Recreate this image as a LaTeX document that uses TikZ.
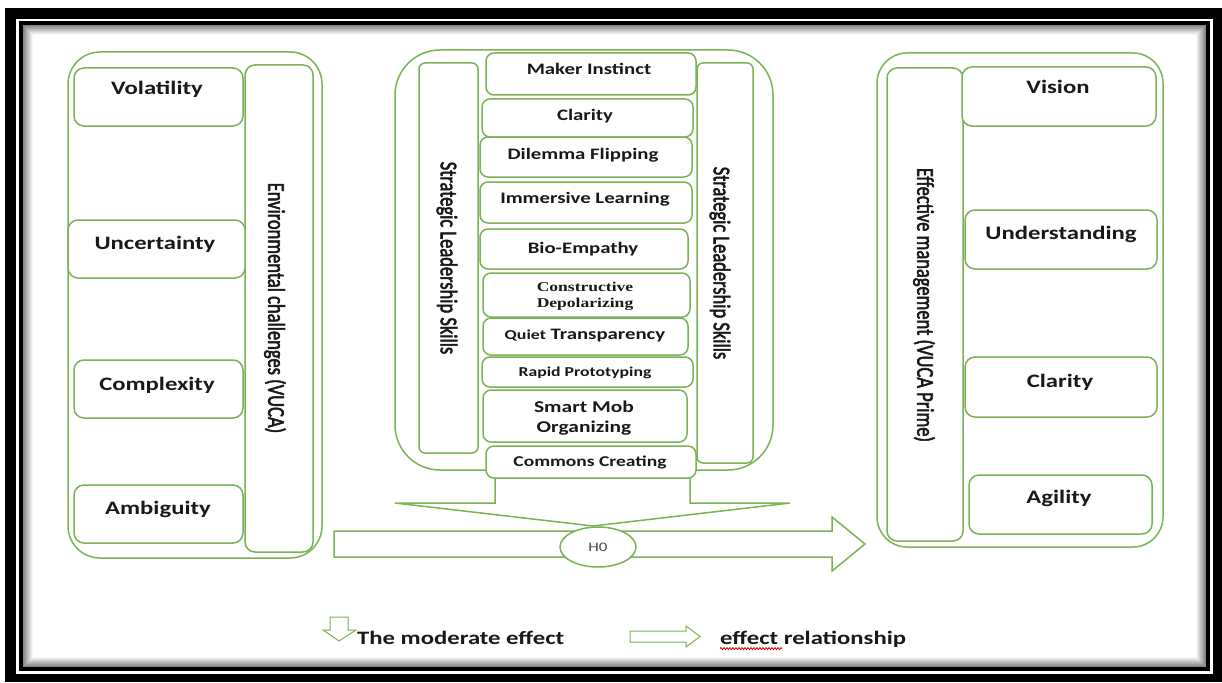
\documentclass[tikz,border=0pt]{standalone}
\usepackage{fontspec}
\usepackage{graphicx}
\setmainfont{Carlito}[FakeStretch=1.3]
\newfontfamily\rotfont{Carlito}[FakeBold=2.5]
\newfontfamily\serfont{Liberation Serif}[FakeStretch=1.3]
\usetikzlibrary{shapes.geometric,decorations.pathmorphing}
\definecolor{grn}{RGB}{120,180,85}
\definecolor{txt}{RGB}{25,25,25}
\tikzset{
  gb/.style={draw=grn, line width=1.5pt, fill=white, rectangle, inner sep=0pt, rounded corners=#1},
  gb/.default=10pt,
  lbl/.style={font=\bfseries\fontsize{19}{22}\selectfont, text=txt, inner sep=0pt, anchor=mid},
  sk/.style={font=\bfseries\fontsize{16}{19}\selectfont, text=txt, inner sep=0pt, anchor=mid, align=center},
  rl/.style={font=\rotfont\fontsize{18.5}{21}\selectfont, text=txt, inner sep=0pt, rotate=-90},
  gline/.style={draw=grn, line width=1.5pt},
}
\newcommand\mkbox[6]{%
  \pgfmathsetmacro\bw{#4-#2}\pgfmathsetmacro\bh{#5-#3}%
  \node[gb=#6pt, minimum width=\bw pt, minimum height=\bh pt] (#1) at ({(#2+#4)/2},{(#3+#5)/2}) {};}
\begin{document}
\begin{tikzpicture}[x=1pt,y=-1pt]
\useasboundingbox (0,0) rectangle (1222,682);
% frame
\fill[white] (0,0) rectangle (1222,682);
\fill[black] (5,8) rectangle (1222,682);
\fill[white] (16,19) rectangle (1213,674);
\fill[black] (19,21) rectangle (1210,671);
\fill[white] (23,25) rectangle (1206,667);
\foreach \i in {0,...,9}{
  \pgfmathtruncatemacro\gv{48-5*\i}
  \draw[black!\gv, line width=1pt] (23.5+\i,25.5+\i) rectangle (1205.5-\i,666.5-\i);
}
% left group
\mkbox{envout}{68}{52}{322}{558}{32}
\mkbox{envttl}{245}{65}{313}{552}{10}
\mkbox{vol}{74}{68}{243}{126}{10}
\mkbox{unc}{68}{220}{245}{278}{10}
\mkbox{cpx}{74}{360}{243}{418}{10}
\mkbox{amb}{74}{485}{243}{543}{10}
\node[lbl] (volt) at (157,92) {Volatility};
\node[lbl] (unct) at (155,247) {Uncertainty};
\node[lbl] (cpxt) at (157,388) {Complexity};
\node[lbl] (ambt) at (158,512) {Ambiguity};
\node[rl] (envl) at (275,308) {\scalebox{1}[1.3]{Environmental challenges (VUCA)}};
% center group
\mkbox{skout}{395}{50}{773}{470}{45}
\mkbox{skL}{419}{63}{478}{453}{6}
\mkbox{skR}{697}{63}{753}{463}{6}
\node[rl] (skLt) at (447,258) {\scalebox{1}[1.3]{Strategic Leadership Skills}};
\node[rl] (skRt) at (720,263) {\scalebox{1}[1.3]{Strategic Leadership Skills}};
% arrows
\draw[gline, fill=white] (334,531) -- (832,531) -- (832,517) -- (865,544) -- (832,571) -- (832,557) -- (334,557) -- cycle;
\draw[gline] (495,478) -- (495,503) -- (395,503) -- (593,526) -- (790,503) -- (690,503) -- (690,478);
\node[draw=grn, line width=1.5pt, fill=white, ellipse, inner sep=0pt, minimum width=76pt, minimum height=40pt, text=txt!80, font=\fontsize{13}{15}\selectfont] (h0) at (598,547) {H0};
% skills
\mkbox{s1}{486}{53}{696}{95}{8}
\mkbox{s2}{482}{99}{693}{137}{8}
\mkbox{s3}{480}{137}{692}{177}{8}
\mkbox{s4}{480}{182}{692}{223}{8}
\mkbox{s5}{480}{229}{688}{269}{8}
\mkbox{s6}{483}{273}{690}{317}{8}
\mkbox{s7}{483}{318}{688}{355}{8}
\mkbox{s8}{482}{357}{693}{387}{8}
\mkbox{s9}{483}{390}{687}{442}{8}
\mkbox{s10}{486}{446}{696}{478}{8}
\node[sk] (t1) at (589,72) {Maker Instinct};
\node[sk] (t2) at (585,118) {Clarity};
\node[sk] (t3) at (583,157) {Dilemma Flipping};
\node[sk] (t4) at (585,201) {Immersive Learning};
\node[sk] (t5) at (583,251) {Bio-Empathy};
\node[sk, anchor=center, font=\serfont\bfseries\fontsize{13.5}{16}\selectfont] (t6) at (585,296) {Constructive\\Depolarizing};
\node[sk] (t7) at (585,337) {{\fontsize{13.7}{16}\selectfont Quiet} Transparency};
\node[sk, font=\bfseries\fontsize{13.6}{16}\selectfont] (t8) at (585,374) {Rapid Prototyping};
\node[sk, anchor=center, font=\bfseries\fontsize{16.5}{20}\selectfont] (t9) at (584,418) {Smart Mob\\Organizing};
\node[sk, font=\bfseries\fontsize{15}{18}\selectfont] (t10) at (590,464) {Commons Creating};
% right group
\mkbox{emout}{877}{53}{1163}{547}{30}
\mkbox{emttl}{887}{68}{963}{541}{10}
\mkbox{vis}{962}{67}{1156}{126}{10}
\mkbox{und}{965}{210}{1157}{269}{10}
\mkbox{cla}{965}{357}{1157}{417}{10}
\mkbox{agi}{969}{475}{1152}{534}{10}
\node[lbl] (vist) at (1058,91) {Vision};
\node[lbl] (undt) at (1061,237) {Understanding};
\node[lbl] (clat) at (1060,385) {Clarity};
\node[lbl] (agit) at (1059,501) {Agility};
\node[rl] (eml) at (924,305) {\scalebox{1}[1.3]{Effective management (VUCA Prime)}};
% legend
\draw[grn, line width=1pt] (330,617) -- (348,617) -- (348,630) -- (356,630) -- (339,641) -- (323,630) -- (330,630) -- cycle;
\node[lbl, anchor=mid west] (leg1) at (357,642) {The moderate effect};
\draw[grn, line width=1pt] (630,631) -- (686,631) -- (686,626) -- (700,636.5) -- (686,647) -- (686,642) -- (630,642) -- cycle;
\node[lbl, anchor=mid west] (leg2) at (720,642) {effect relationship};
\draw[red!85!black, line width=0.8pt, decorate, decoration={snake, amplitude=1pt, segment length=3pt}] (leg2.south west) ++(0,1) -- ++(62,0);
\end{tikzpicture}
\end{document}
